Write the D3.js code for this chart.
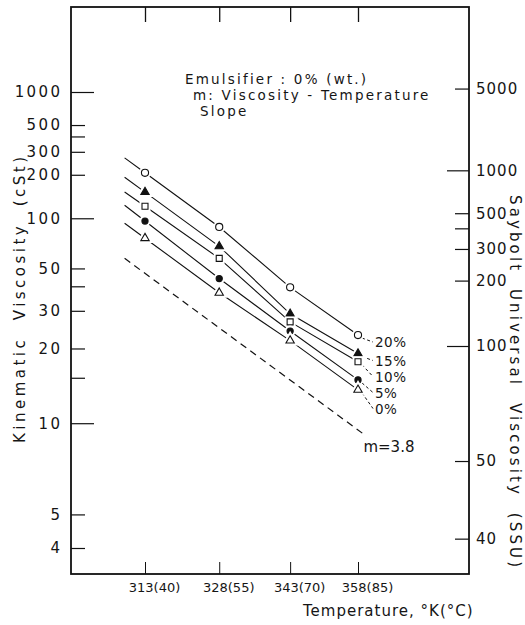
<!DOCTYPE html>
<html><head><meta charset="utf-8">
<script src="https://cdn.jsdelivr.net/npm/d3@7"></script>
<style>
body{margin:0;background:#fff}
svg{display:block}
text{font-family:"DejaVu Sans",sans-serif;fill:#151515}
</style>
</head><body><svg id="c" width="525" height="625"></svg>
<script>
// ---------- data ----------
const temperaturesK = [313, 328, 343, 358];
const temperaturesC = [40, 55, 70, 85];
const seriesNames = ["20%", "15%", "10%", "5%", "0%"];
const visc20 = [207, 88, 39.5, 23];
const visc15 = [150, 67, 29, 19];
const visc10 = [120, 57, 26.5, 17.5];
const visc5  = [96, 44, 24, 14.7];
const visc0  = [75, 37, 21.7, 13.4];
const markerShapes = ["circle", "triangle", "square", "circle", "triangle"];
const markerFilled = [false, true, false, true, false];
const refLineT = [309, 359];
const refLineV = [57, 9.2];
const refLineLabel = "m=3.8";
const lineStartT = 309;
const cstTicks = [1000, 500, 400, 300, 200, 100, 50, 40, 30, 20, 15, 10, 5, 4];
const cstLabels = [1000, 500, 300, 200, 100, 50, 30, 20, 10, 5, 4];
const cstMajor = [1000, 100, 10];
const ssuTicks = [5000, 1000, 500, 400, 300, 200, 100, 50, 40];
const ssuLabels = [5000, 1000, 500, 300, 200, 100, 50, 40];
const ssuMajor = [1000, 100];
const noteLines = ["Emulsifier : 0% (wt.)", "m: Viscosity - Temperature", "Slope"];

const seriesValues = [visc20, visc15, visc10, visc5, visc0];

// ---------- layout ----------
const frame = {left: 71, right: 469, top: 7, bottom: 574};
const svg = d3.select("#c");

// ASTM-style viscosity-temperature chart transform
const f = v => Math.log10(Math.log10(v + 1));
const yT = d3.scaleLinear().domain([f(4), f(1000)]).range([548, 92]);
const y = v => yT(f(v));
const x = d3.scaleLog().domain([313, 358]).range([145, 358]);

// SSU -> cSt (inverse of ASTM D2161 relation)
function cstToSsu(v) {
  return 4.6324 * v + (1.0 + 0.03264 * v) / ((3930.2 + 262.7 * v + 23.97 * v * v + 1.646 * v * v * v) * 1e-5);
}
function ssuToCst(s) {
  let lo = 0.5, hi = 5000;
  for (let k = 0; k < 80; k++) { const m = (lo + hi) / 2; if (cstToSsu(m) < s) lo = m; else hi = m; }
  return (lo + hi) / 2;
}

// ---------- frame ----------
svg.append("rect")
  .attr("x", frame.left).attr("y", frame.top)
  .attr("width", frame.right - frame.left).attr("height", frame.bottom - frame.top)
  .attr("fill", "none").attr("stroke", "#111").attr("stroke-width", 1.8);

// ---------- left axis (cSt) ----------
const gL = svg.append("g").attr("transform", `translate(${frame.left},0)`)
  .call(d3.axisLeft(yT).tickValues(cstTicks.map(f)).tickSizeInner(-14).tickSizeOuter(0).tickPadding(11)
    .tickFormat((d, i) => cstLabels.includes(cstTicks[i]) ? String(cstTicks[i]) : ""));
gL.select(".domain").remove();
gL.selectAll(".tick line").attr("stroke", "#111").attr("stroke-width", 1.2)
  .attr("x2", (d, i) => cstMajor.includes(cstTicks[i]) ? 23 : 14);
gL.selectAll(".tick text").attr("font-family", "DejaVu Sans").attr("font-size", 15)
  .attr("letter-spacing", 2.4).attr("fill", "#151515").attr("dx", 2.4);

// ---------- right axis (SSU) ----------
const gR = svg.append("g").attr("transform", `translate(${frame.right},0)`)
  .call(d3.axisRight(yT).tickValues(ssuTicks.map(s => f(ssuToCst(s)))).tickSizeInner(-14).tickSizeOuter(0).tickPadding(7)
    .tickFormat((d, i) => ssuLabels.includes(ssuTicks[i]) ? String(ssuTicks[i]) : ""));
gR.select(".domain").remove();
gR.selectAll(".tick line").attr("stroke", "#111").attr("stroke-width", 1.2)
  .attr("x2", (d, i) => ssuMajor.includes(ssuTicks[i]) ? -22 : -14);
gR.selectAll(".tick text").attr("font-family", "DejaVu Sans").attr("font-size", 15)
  .attr("letter-spacing", 1).attr("fill", "#151515");

// ---------- bottom / top axes ----------
const gB = svg.append("g").attr("transform", `translate(0,${frame.bottom})`)
  .call(d3.axisBottom(x).tickValues(temperaturesK).tickSizeInner(-12).tickSizeOuter(0).tickPadding(9)
    .tickFormat((d, i) => `${d}(${temperaturesC[i]})`));
gB.select(".domain").remove();
gB.selectAll(".tick line").attr("stroke", "#111").attr("stroke-width", 1);
gB.selectAll(".tick text").attr("font-family", "DejaVu Sans").attr("font-size", 13)
  .attr("fill", "#151515").attr("dx", 9);

const gT = svg.append("g").attr("transform", `translate(0,${frame.top})`)
  .call(d3.axisTop(x).tickValues(temperaturesK).tickSizeInner(-15).tickSizeOuter(0).tickFormat(""));
gT.select(".domain").remove();
gT.selectAll(".tick line").attr("stroke", "#111").attr("stroke-width", 1.3);

// ---------- axis titles ----------
svg.append("text").attr("transform", "translate(25,300) rotate(-90)")
  .attr("text-anchor", "middle").attr("font-size", 15)
  .attr("textLength", 286).attr("lengthAdjust", "spacing")
  .style("white-space", "pre")
  .text("Kinematic  Viscosity  (cSt)");

svg.append("text").attr("transform", "translate(510,381) rotate(90)")
  .attr("text-anchor", "middle").attr("font-size", 15)
  .attr("textLength", 372).attr("lengthAdjust", "spacing")
  .style("white-space", "pre")
  .text("Saybolt  Universal  Viscosity  (SSU)");

svg.append("text").attr("x", 303).attr("y", 616).attr("font-size", 15)
  .attr("letter-spacing", 1).text("Temperature, °K(°C)");

// ---------- annotation ----------
const noteX = [185, 193, 200];
svg.append("g").selectAll("text").data(noteLines).join("text")
  .attr("x", (d, i) => noteX[i]).attr("y", (d, i) => 84 + i * 15.9)
  .attr("font-size", 13.5).attr("letter-spacing", 2.2).text(d => d);

// ---------- reference (slope) line ----------
const refPts = refLineT.map((t, i) => [x(t), y(refLineV[i])]);
svg.append("path").attr("d", d3.line()(refPts))
  .attr("fill", "none").attr("stroke", "#111").attr("stroke-width", 1.2)
  .attr("stroke-dasharray", "7,5");
svg.append("text").attr("x", refPts[1][0] + 1).attr("y", refPts[1][1] + 19)
  .attr("font-size", 15).text(refLineLabel);

// ---------- series ----------
const symType = {circle: d3.symbolCircle, triangle: d3.symbolTriangle, square: d3.symbolSquare};
const symSize = (shape, filled) => shape === "circle" ? (filled ? 30 : 40) : shape === "square" ? 36 : 30;

const gS = svg.append("g");
let prevLabelY = -Infinity;
seriesValues.forEach((vals, si) => {
  const pts = temperaturesK.map((t, i) => [x(t), y(vals[i])]);
  const [x0, y0] = pts[0], [x1, y1] = pts[1];
  const xs = x(lineStartT);
  const ys = y0 + (y0 - y1) * (x0 - xs) / (x1 - x0);
  gS.append("path").attr("d", d3.line()([[xs, ys], ...pts]))
    .attr("fill", "none").attr("stroke", "#111").attr("stroke-width", 1.1);

  const last = pts[pts.length - 1];
  const ly = Math.max(last[1] + 12, prevLabelY + 16);
  prevLabelY = ly;
  gS.append("path").attr("d", d3.line()([[last[0] + 4, last[1] + 3], [373, ly - 5]]))
    .attr("fill", "none").attr("stroke", "#111").attr("stroke-width", 1)
    .attr("stroke-dasharray", "3,2.5");
  gS.append("text").attr("x", 375).attr("y", ly).attr("font-size", 13.5).attr("letter-spacing", 0.5)
    .text(seriesNames[si]);

  const shape = markerShapes[si], filled = markerFilled[si];
  const sym = d3.symbol().type(symType[shape]).size(symSize(shape, filled));
  gS.selectAll(null).data(pts).join("path")
    .attr("transform", d => `translate(${d[0]},${d[1]})`).attr("d", sym)
    .attr("fill", "#fff").attr("stroke", "#fff").attr("stroke-width", 5);
  gS.selectAll(null).data(pts).join("path")
    .attr("transform", d => `translate(${d[0]},${d[1]})`).attr("d", sym)
    .attr("fill", filled ? "#111" : "#fff").attr("stroke", "#111").attr("stroke-width", 1.1);
});
</script>
</body></html>
